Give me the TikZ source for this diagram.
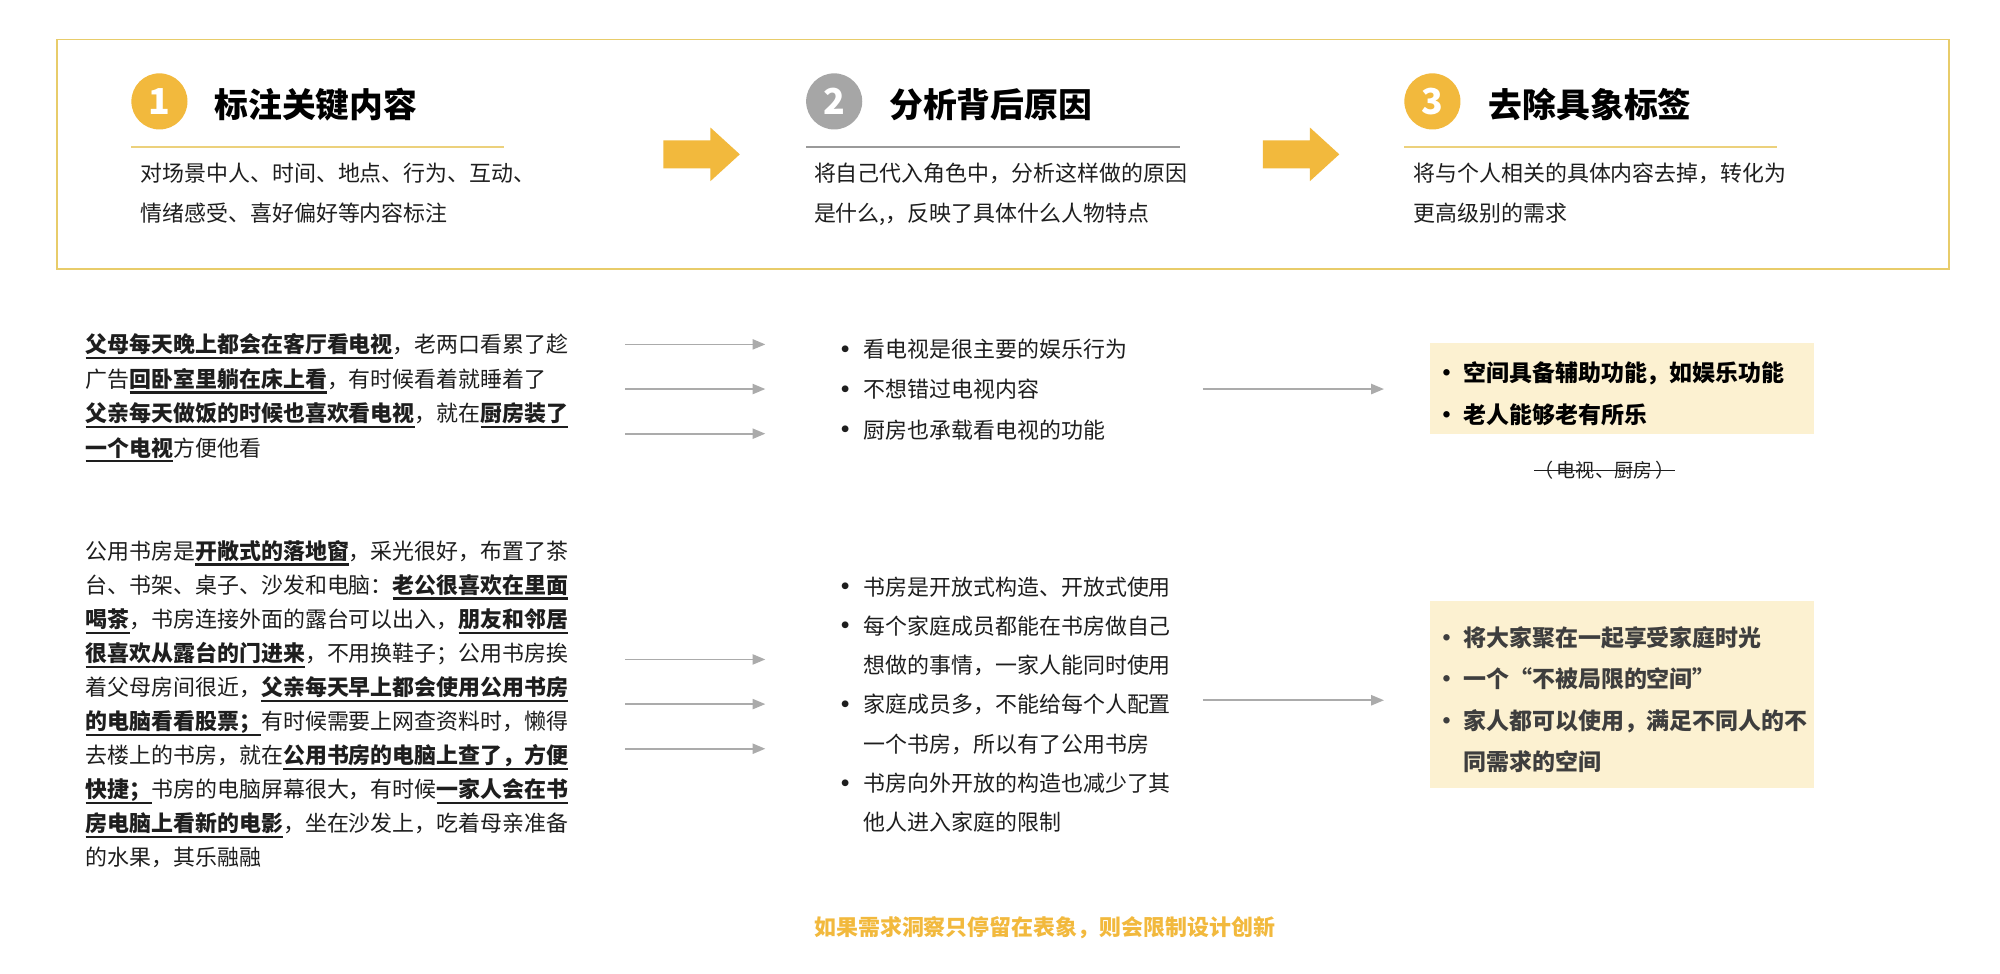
\documentclass[tikz,border=0pt]{standalone}
\usepackage{fontspec}
\setmainfont{Noto Sans CJK SC}
\usetikzlibrary{arrows.meta}
\definecolor{gold}{HTML}{F2B93D}
\definecolor{goldline}{HTML}{ECD17C}
\definecolor{frame}{HTML}{E8CC6A}
\definecolor{cgray}{HTML}{A6A6A6}
\definecolor{ugray}{HTML}{9A9A9A}
\definecolor{agray}{HTML}{ABABAB}
\definecolor{cream}{HTML}{FCF1D1}
\definecolor{ink}{HTML}{1E1E1E}
\definecolor{ink2}{HTML}{3E3E3E}
\newcommand\myul[1]{\setbox0=\hbox{\bfseries #1}\leavevmode\rlap{\copy0}\rule[-5pt]{\wd0}{1.8pt}}
\begin{document}
\begin{tikzpicture}[x=1pt,y=-1pt,
  txt/.style={anchor=base west, inner sep=0, text=ink, font=\fontsize{17.2}{20}\selectfont},
  bul/.style={anchor=base west, inner sep=0, text=ink, font=\fontsize{19}{20}\selectfont\bfseries},
  desc/.style={anchor=base west, inner sep=0, text=ink, font=\fontsize{17.2}{20}\selectfont},
  head/.style={anchor=base west, inner sep=0, text=black, font=\fontsize{26.5}{30}\selectfont\bfseries},
  numc/.style={circle, minimum size=44pt, inner sep=0, text=white, font=\fontsize{28}{28}\selectfont\bfseries},
  rtxt/.style={anchor=base west, inner sep=0, text=black, font=\fontsize{18}{20}\selectfont\bfseries},
  rtxtb/.style={rtxt, text=ink2},
  conn/.style={draw=agray, line width=1.3pt, -{Triangle[length=10pt,width=8pt]}},
  fat/.style={fill=gold, draw=none}
]
\useasboundingbox (0,0) rectangle (1568,763);
\fill[white] (0,0) rectangle (1568,763);

% top frame
\node[draw=frame, line width=1.5pt, minimum width=1483pt, minimum height=180pt, inner sep=0] (topbox) at (786.5,121) {};

% step 1
\node[numc, fill=gold] (n1) at (125,79.5) {1};
\node[head] (h1) at (168,92) {标注关键内容};
\draw[goldline, line width=1.6pt] (103,115) -- (395,115);
\node[desc] (d1a) at (110,142.5) {对场景中人、时间、地点、行为、互动、};
\node[desc] (d1b) at (110,173.5) {情绪感受、喜好偏好等内容标注};

% step 2
\node[numc, fill=cgray] (n2) at (654,79.5) {2};
\node[head] (h2) at (697,92) {分析背后原因};
\draw[ugray, line width=1.6pt] (632,115) -- (925,115);
\node[desc] (d2a) at (638,142.5) {将自己代入角色中，分析这样做的原因};
\node[desc] (d2b) at (638,173.5) {是什么,，反映了具体什么人物特点};

% step 3
\node[numc, fill=gold] (n3) at (1123,79.5) {3};
\node[head] (h3) at (1167,92) {去除具象标签};
\draw[goldline, line width=1.6pt] (1101,115) -- (1393,115);
\node[desc] (d3a) at (1108,142.5) {将与个人相关的具体内容去掉，转化为};
\node[desc] (d3b) at (1108,173.5) {更高级别的需求};

% fat arrows
\fill[fat] (520,110) -- (557,110) -- (557,100) -- (580,121) -- (557,142) -- (557,132) -- (520,132) -- cycle;
\fill[fat] (990,110) -- (1027,110) -- (1027,100) -- (1050,121) -- (1027,142) -- (1027,132) -- (990,132) -- cycle;

% section 1 left text
\node[txt] (s1l1) at (67,276.5) {\myul{父母每天晚上都会在客厅看电视}，老两口看累了趁};
\node[txt] (s1l2) at (67,303.5) {广告\myul{回卧室里躺在床上看}，有时候看着就睡着了};
\node[txt] (s1l3) at (67,330.5) {\myul{父亲每天做饭的时候也喜欢看电视}，就在\myul{厨房装了}};
\node[txt] (s1l4) at (67,357.5) {\myul{一个电视}方便他看};

% section 1 arrows
\coordinate (a11s) at (490,270); \coordinate (a11e) at (600,270);
\coordinate (a12s) at (490,305); \coordinate (a12e) at (600,305);
\coordinate (a13s) at (490,340); \coordinate (a13e) at (600,340);
\draw[conn] (a11s) -- (a11e);
\draw[conn] (a12s) -- (a12e);
\draw[conn] (a13s) -- (a13e);

% section 1 middle bullets
\node[bul] (b11) at (653,281) {•};
\node[txt] (m11) at (677,280.5) {看电视是很主要的娱乐行为};
\node[bul] (b12) at (653,312.5) {•};
\node[txt] (m12) at (677,312) {不想错过电视内容};
\node[bul] (b13) at (653,344) {•};
\node[txt] (m13) at (677,343.5) {厨房也承载看电视的功能};

\coordinate (c1s) at (943,305); \coordinate (c1e) at (1085,305);
\draw[conn] (c1s) -- (c1e);

% section 1 right box
\node[fill=cream, minimum width=301pt, minimum height=71pt, inner sep=0] (r1box) at (1271.5,304.5) {};
\node[rtxt] (rb11) at (1125,298.8) {•};
\node[rtxt] (r11) at (1147,298.8) {空间具备辅助功能，如娱乐功能};
\node[rtxt] (rb12) at (1125,331.8) {•};
\node[rtxt] (r12) at (1147,331.8) {老人能够老有所乐};
\node[inner sep=0, text=ink, font=\fontsize{15}{16}\selectfont] (strk) at (1258,369) {（\,电视、厨房\,）};
\draw[ink, line width=1pt] (strk.west) -- (strk.east);

% section 2 left text
\node[txt] (s2l1) at (67,438.5) {公用书房是\myul{开敞式的落地窗}，采光很好，布置了茶};
\node[txt] (s2l2) at (67,465.2) {台、书架、桌子、沙发和电脑：\myul{老公很喜欢在里面}};
\node[txt] (s2l3) at (67,491.9) {\myul{喝茶}，书房连接外面的露台可以出入，\myul{朋友和邻居}};
\node[txt] (s2l4) at (67,518.6) {\myul{很喜欢从露台的门进来}，不用换鞋子；公用书房挨};
\node[txt] (s2l5) at (67,545.3) {着父母房间很近，\myul{父亲每天早上都会使用公用书房}};
\node[txt] (s2l6) at (67,572.0) {\myul{的电脑看看股票；}有时候需要上网查资料时，懒得};
\node[txt] (s2l7) at (67,598.7) {去楼上的书房，就在\myul{公用书房的电脑上查了，方便}};
\node[txt] (s2l8) at (67,625.4) {\myul{快捷；}书房的电脑屏幕很大，有时候\myul{一家人会在书}};
\node[txt] (s2l9) at (67,652.1) {\myul{房电脑上看新的电影}，坐在沙发上，吃着母亲准备};
\node[txt] (s2l10) at (67,678.8) {的水果，其乐融融};

% section 2 arrows
\coordinate (a21s) at (490,517); \coordinate (a21e) at (600,517);
\coordinate (a22s) at (490,552); \coordinate (a22e) at (600,552);
\coordinate (a23s) at (490,587); \coordinate (a23e) at (600,587);
\draw[conn] (a21s) -- (a21e);
\draw[conn] (a22s) -- (a22e);
\draw[conn] (a23s) -- (a23e);

% section 2 middle bullets
\node[bul] (b21) at (653,467) {•};
\node[txt] (m21) at (677,466.5) {书房是开放式构造、开放式使用};
\node[bul] (b22) at (653,497.8) {•};
\node[txt] (m22) at (677,497.3) {每个家庭成员都能在书房做自己};
\node[txt] (m23) at (677,528.1) {想做的事情，一家人能同时使用};
\node[bul] (b24) at (653,559.4) {•};
\node[txt] (m24) at (677,558.9) {家庭成员多，不能给每个人配置};
\node[txt] (m25) at (677,589.7) {一个书房，所以有了公用书房};
\node[bul] (b26) at (653,621) {•};
\node[txt] (m26) at (677,620.5) {书房向外开放的构造也减少了其};
\node[txt] (m27) at (677,651.3) {他人进入家庭的限制};

\coordinate (c2s) at (943,549); \coordinate (c2e) at (1085,549);
\draw[conn] (c2s) -- (c2e);

% section 2 right box
\node[fill=cream, minimum width=301pt, minimum height=147pt, inner sep=0] (r2box) at (1271.5,544.5) {};
\node[rtxtb] (rb21) at (1125,506.8) {•};
\node[rtxtb] (r21) at (1147,506.8) {将大家聚在一起享受家庭时光};
\node[rtxtb] (rb22) at (1125,539.3) {•};
\node[rtxtb] (r22) at (1147,539.3) {一个“不被局限的空间”};
\node[rtxtb] (rb23) at (1125,571.8) {•};
\node[rtxtb] (r23) at (1147,571.8) {家人都可以使用，满足不同人的不};
\node[rtxtb] (r24) at (1147,604.3) {同需求的空间};

% caption
\node[inner sep=0, text=gold, font=\fontsize{17.2}{20}\selectfont\bfseries] (cap) at (819,727) {如果需求洞察只停留在表象，则会限制设计创新};
\end{tikzpicture}
\end{document}
